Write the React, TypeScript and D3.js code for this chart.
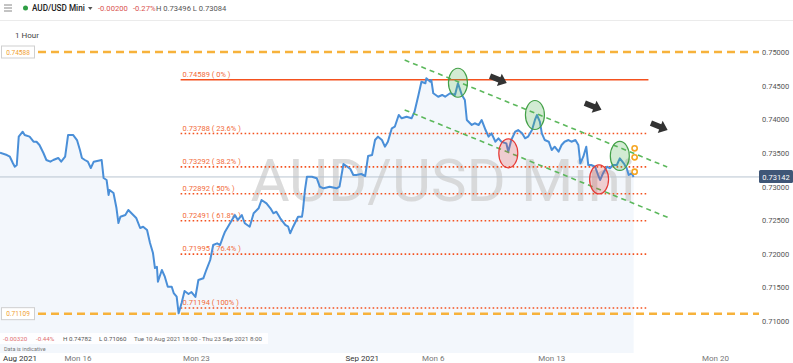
import React, { useEffect, useRef } from 'react';
import * as d3 from 'd3';

// hourly closes, hours counted in trading hours from Mon 16 Aug 00:00
const hours = [
  -79, -72, -69, -66, -64, -62, -60, -56, -54, -49, -45, -42, -39, -35, -32, -28, -25, -20, -17, -13,
  -10, -5, -1, 2, 4, 7, 10, 13, 16, 24, 26, 29, 31, 32, 36, 39, 41, 43, 48, 51,
  56, 59, 63, 66, 70, 73, 76, 78, 80, 81, 85, 88, 91, 95, 97, 100, 102, 105, 108, 112,
  115, 119, 122, 127, 130, 134, 137, 141, 144, 147, 149, 152, 156, 159, 162, 166, 169, 174, 178, 183,
  186, 191, 195, 198, 201, 205, 210, 213, 215, 218, 223, 227, 228, 230, 232, 237, 242, 245, 249, 255,
  262, 265, 269, 272, 276, 279, 282, 287, 291, 294, 298, 301, 304, 308, 311, 314, 318, 321, 325, 328,
  333, 338, 341, 345, 348, 352, 353, 357, 358, 360, 365, 369, 372, 377, 382, 385, 389, 392, 394, 399,
  402, 406, 409, 413, 416, 419, 423, 426, 429, 434, 436, 439, 443, 446, 450, 453, 456, 460, 463, 465,
  468, 470, 473, 477, 480, 483, 487, 490, 493, 497, 500, 504, 507, 509, 512, 515, 517, 520, 524, 527,
  529, 532, 536, 539, 542, 546, 549, 553, 556, 558, 561, 563,
];
const closes = [
  0.73503, 0.73468, 0.73443, 0.73349, 0.73294, 0.7332, 0.73741, 0.73815, 0.73766, 0.73741, 0.73666, 0.73666, 0.73617, 0.73498, 0.73394, 0.73369, 0.73394, 0.73424, 0.73369, 0.73443,
  0.73766, 0.73766, 0.73691, 0.73543, 0.73424, 0.73394, 0.73369, 0.73275, 0.73369, 0.73394, 0.73126, 0.73097, 0.72874, 0.72948, 0.72903, 0.7268, 0.72457, 0.72551, 0.72576, 0.72651,
  0.72576, 0.72532, 0.72383, 0.72402, 0.72353, 0.7216, 0.72011, 0.71788, 0.71807, 0.71584, 0.71758, 0.71659, 0.7151, 0.7151, 0.71416, 0.71361, 0.71115, 0.71268, 0.71446, 0.71402,
  0.71431, 0.71357, 0.7161, 0.71635, 0.71758, 0.71907, 0.7213, 0.72155, 0.7213, 0.72254, 0.72328, 0.72402, 0.72502, 0.72576, 0.72502, 0.72576, 0.72453, 0.72402, 0.72602, 0.72676,
  0.72799, 0.7275, 0.72676, 0.72602, 0.72625, 0.72527, 0.72428, 0.72402, 0.72304, 0.72402, 0.72551, 0.72551, 0.72651, 0.72948, 0.73146, 0.73146, 0.73122, 0.72997, 0.72973, 0.72997,
  0.72973, 0.72997, 0.73335, 0.73305, 0.7326, 0.73171, 0.73171, 0.73186, 0.73156, 0.73454, 0.73468, 0.73691, 0.73741, 0.73691, 0.73592, 0.73666, 0.73865, 0.73889, 0.74063, 0.74014,
  0.74038, 0.74014, 0.74112, 0.74361, 0.74558, 0.74535, 0.74609, 0.74558, 0.74584, 0.74386, 0.74335, 0.74361, 0.74335, 0.74386, 0.74361, 0.74535, 0.74361, 0.74286, 0.73989, 0.73915,
  0.7394, 0.73915, 0.73989, 0.7384, 0.73741, 0.73791, 0.73666, 0.73717, 0.73666, 0.73642, 0.73518, 0.73691, 0.73815, 0.7384, 0.73791, 0.73717, 0.73741, 0.7384, 0.73989, 0.74063,
  0.73964, 0.73791, 0.73691, 0.73666, 0.73543, 0.73592, 0.73518, 0.73617, 0.73666, 0.73691, 0.73666, 0.73691, 0.73617, 0.73345, 0.73443, 0.73592, 0.7332, 0.7332, 0.73294, 0.73171,
  0.73097, 0.73196, 0.73294, 0.73271, 0.7332, 0.7332, 0.73419, 0.73345, 0.73271, 0.73171, 0.73196, 0.73142,
];

const lastPrice = 0.73142;

const fibLevels = [0.74589, 0.73788, 0.73292, 0.72892, 0.72491, 0.71995, 0.71194];
const fibPercents = ['0%', '23.6%', '38.2%', '50%', '61.8%', '76.4%', '100%'];
const fibFromHour = 104;
const fibToHour = 578;

// orange dashed levels and the text in their left-hand tags
const bandLevels = [0.75, 0.71109];
const bandLabels = ['0.74588', '0.71109'];

const tickHours = [0, 120, 288, 360, 480, 646];
const tickLabels = ['Mon 16', 'Mon 23', 'Sep 2021', 'Mon 6', 'Mon 13', 'Mon 20'];

// channel lines [hour, price]
const channelTop = [[331, 0.74881], [597, 0.7329]];
const channelBottom = [[331, 0.74138], [598, 0.72538]];

// touch markers [hour, price]
const greenMarks = [[385, 0.74543], [463, 0.74063], [549, 0.73454]];
const redMarks = [[436, 0.73494], [528, 0.73107]];
const arrowMarks = [[426, 0.74591], [522, 0.7419], [589, 0.73892]];
const ringMarks = [[564, 0.73568], [564, 0.73434], [564, 0.7322]];

const W = 793;
const H = 363;

export default function App() {
  const ref = useRef<SVGSVGElement>(null);

  useEffect(() => {
    const svg = d3.select(ref.current);
    svg.selectAll('*').remove();
    const font = 'Roboto, "Noto Sans", sans-serif';
    svg.attr('font-family', font);

    const x = d3.scaleLinear().domain([-79, 688]).range([0, 757]);
    const y = d3.scaleLinear().domain([0.71, 0.75]).range([321, 52]);
    const pts = hours.map((h, i) => [h, closes[i]] as [number, number]);

    // header
    const head = svg.append('g');
    [5, 8, 11].forEach(v =>
      head.append('line').attr('x1', 4).attr('x2', 12).attr('y1', v).attr('y2', v)
        .attr('stroke', '#888').attr('stroke-width', 1));
    head.append('circle').attr('cx', 25.5).attr('cy', 8).attr('r', 2.5).attr('fill', '#2e9e44');
    head.append('text').attr('x', 32).attr('y', 11).attr('font-size', 8.2).attr('font-weight', 500)
      .attr('fill', '#222').text('AUD/USD Mini');
    head.append('path').attr('d', 'M88,7 L92.5,7 L90.25,10 Z').attr('fill', '#555');
    head.append('text').attr('x', 98).attr('y', 11).attr('font-size', 7.6).attr('fill', '#d9534f')
      .text('-0.00200');
    head.append('text').attr('x', 133).attr('y', 11).attr('font-size', 7.6).attr('fill', '#d9534f')
      .text('-0.27%');
    head.append('text').attr('x', 156).attr('y', 11).attr('font-size', 7.6).attr('fill', '#555')
      .text('H 0.73496  L 0.73084');
    svg.append('line').attr('x1', 0).attr('x2', W).attr('y1', 20.5).attr('y2', 20.5)
      .attr('stroke', '#ebebeb');
    svg.append('text').attr('x', 15).attr('y', 38).attr('font-size', 8).attr('fill', '#444').text('1 Hour');

    // area under the line
    const area = d3.area<[number, number]>().x(d => x(d[0])).y0(353).y1(d => y(d[1]));
    svg.append('path').datum(pts).attr('d', area).attr('fill', '#f3f7fc');

    // watermark
    svg.append('text').attr('x', 443).attr('y', 201).attr('text-anchor', 'middle')
      .attr('font-size', 60).attr('fill', '#cdcdcd').attr('opacity', 0.7)
      .attr('font-family', 'Roboto, sans-serif').text('AUD/USD Mini');

    // current price line
    svg.append('line').attr('x1', 0).attr('x2', 760).attr('y1', y(lastPrice)).attr('y2', y(lastPrice))
      .attr('stroke', '#b8c4d0').attr('stroke-width', 1);

    // fib levels
    fibLevels.forEach((lv, i) => {
      svg.append('line').attr('x1', x(fibFromHour)).attr('x2', x(fibToHour))
        .attr('y1', y(lv)).attr('y2', y(lv))
        .attr('stroke', '#f4511e').attr('stroke-width', i === 0 ? 1.5 : 1.6)
        .attr('stroke-dasharray', i === 0 ? null : '1.6,2.4');
      svg.append('text').attr('x', x(fibFromHour) + 2).attr('y', y(lv) - 3)
        .attr('font-size', 7.5).attr('fill', '#f26b3a')
        .text(`${lv.toFixed(5)} ( ${fibPercents[i]} )`);
    });

    // orange dashed band levels
    bandLevels.forEach((lv, i) => {
      svg.append('line').attr('x1', 38).attr('x2', 759).attr('y1', y(lv)).attr('y2', y(lv))
        .attr('stroke', '#f7b23b').attr('stroke-width', 2.5).attr('stroke-dasharray', '8,5');
      svg.append('rect').attr('x', 1.5).attr('y', y(lv) - 6).attr('width', 33).attr('height', 12)
        .attr('fill', '#fff').attr('stroke', '#cfcfcf').attr('stroke-width', 1);
      svg.append('text').attr('x', 18).attr('y', y(lv) + 2.5).attr('text-anchor', 'middle')
        .attr('font-size', 6.5).attr('fill', '#f0a030').text(bandLabels[i]);
    });

    // price line
    const line = d3.line<[number, number]>().x(d => x(d[0])).y(d => y(d[1]));
    svg.append('path').datum(pts).attr('d', line).attr('fill', 'none')
      .attr('stroke', '#4a8fd8').attr('stroke-width', 2).attr('stroke-linejoin', 'round');

    // channel
    [channelTop, channelBottom].forEach(c => {
      svg.append('line').attr('x1', x(c[0][0])).attr('y1', y(c[0][1]))
        .attr('x2', x(c[1][0])).attr('y2', y(c[1][1]))
        .attr('stroke', '#5cb85c').attr('stroke-width', 1.6).attr('stroke-dasharray', '5,4');
    });

    // markers
    greenMarks.forEach(m => {
      svg.append('ellipse').attr('cx', x(m[0])).attr('cy', y(m[1])).attr('rx', 9.5).attr('ry', 14.5)
        .attr('fill', 'rgba(76,175,80,0.25)').attr('stroke', '#43a047').attr('stroke-width', 1.2);
    });
    redMarks.forEach(m => {
      svg.append('ellipse').attr('cx', x(m[0])).attr('cy', y(m[1])).attr('rx', 9.5).attr('ry', 14.5)
        .attr('fill', 'rgba(229,57,53,0.22)').attr('stroke', '#e53935').attr('stroke-width', 1.2);
    });
    ringMarks.forEach(m => {
      svg.append('circle').attr('cx', x(m[0])).attr('cy', y(m[1])).attr('r', 2.6)
        .attr('fill', '#fff').attr('stroke', '#f5a623').attr('stroke-width', 1.6);
    });
    arrowMarks.forEach(m => {
      svg.append('path').attr('d', 'M-9,-2.8 L1,-2.8 L1,-6.5 L9,0 L1,6.5 L1,2.8 L-9,2.8 Z')
        .attr('fill', '#333')
        .attr('transform', `translate(${x(m[0])},${y(m[1])}) rotate(22)`);
    });

    // right axis
    y.ticks(8).forEach(t => {
      svg.append('text').attr('x', 762).attr('y', y(t) + 3).attr('font-size', 7.5).attr('fill', '#555')
        .text(d3.format('.5f')(t));
    });
    svg.append('rect').attr('x', 759).attr('y', y(lastPrice) - 7).attr('width', 34).attr('height', 13)
      .attr('rx', 1.5).attr('fill', '#3f5677');
    svg.append('text').attr('x', 776).attr('y', y(lastPrice) + 2.8).attr('text-anchor', 'middle')
      .attr('font-size', 7.5).attr('fill', '#fff').text(lastPrice.toFixed(5));

    // info strip
    svg.append('rect').attr('x', 0).attr('y', 333).attr('width', 268).attr('height', 11).attr('fill', '#fff')
      .attr('opacity', 0.85);
    const info = [
      [3, '-0.00320', '#e07070'], [36, '-0.44%', '#e07070'], [63, 'H 0.74782', '#555'],
      [99, 'L 0.71060', '#555'], [134, 'Tue 10 Aug 2021 18:00 - Thu 23 Sep 2021 8:00', '#666'],
    ];
    info.forEach(d => {
      svg.append('text').attr('x', d[0] as number).attr('y', 341).attr('font-size', 6.2)
        .attr('fill', d[2] as string).text(d[1] as string);
    });
    svg.append('text').attr('x', 4).attr('y', 351).attr('font-size', 5.5).attr('fill', '#777')
      .text('Data is indicative');

    // bottom axis
    svg.append('text').attr('x', 3).attr('y', 361).attr('font-size', 8).attr('fill', '#333').text('Aug 2021');
    tickHours.forEach((h, i) => {
      const isMonth = tickLabels[i].indexOf('20') > 0 && tickLabels[i].length > 6;
      svg.append('text').attr('x', x(h)).attr('y', 361).attr('text-anchor', 'middle')
        .attr('font-size', 8).attr('fill', isMonth ? '#333' : '#777').text(tickLabels[i]);
    });
  }, []);

  return (
    <div style={{ position: 'absolute', left: 0, top: 0 }}>
      <svg ref={ref} width={W} height={H} style={{ display: 'block', background: '#fff' }} />
    </div>
  );
}
